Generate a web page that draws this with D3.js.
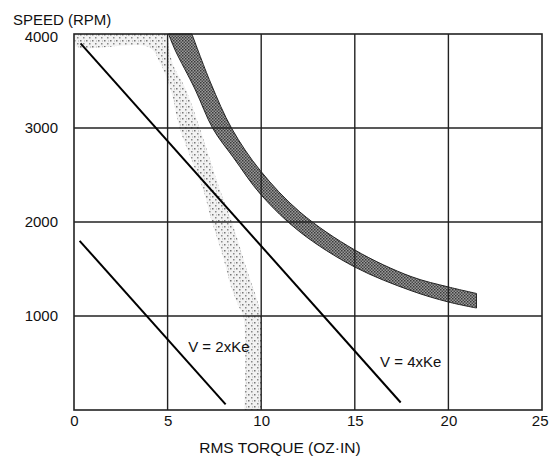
<!DOCTYPE html>
<html>
<head>
    <title>Speed vs RMS Torque</title>
    <script src="https://d3js.org/d3.v7.min.js"></script>
    <style>
        body { margin: 0; background: #fff; }
        text { font-family: "Liberation Sans", Arial, sans-serif; fill: #111; }
    </style>
</head>
<body>
    <script>
        // Data (torque oz-in, speed rpm)
        const xTicks = [0, 5, 10, 15, 20, 25];
        const yTicks = [1000, 2000, 3000, 4000];

        // voltage lines
        const line2Ke = [[0.3, 1800], [8.1, 60]];
        const line4Ke = [[0.35, 3900], [17.45, 80]];

        // dark band: upper edge, then lower edge
        const darkUpper = [[6.3, 4000], [7.3, 3480], [8.44, 2990], [9.94, 2550], [12.07, 2106], [15, 1702], [18, 1420], [20, 1309], [21.5, 1240]];
        const darkLower = [[5.05, 4000], [5.4, 3830], [6.46, 3415], [7.43, 2990], [8.5, 2690], [10, 2287], [12.07, 1894], [15, 1521], [18, 1270], [20, 1149], [21.5, 1085]];

        // light stippled band: right edge, then left edge
        const lightRight = [[5.0, 4000], [5.25, 3700], [5.99, 3404], [6.73, 2990], [7.8, 2340], [8.44, 2000], [9.24, 1489], [9.83, 1138], [10, 990], [10, 0]];
        const lightLeft = [[9.1, 0], [9.05, 990], [8.8, 1100], [8.4, 1300], [8.0, 1600], [7.37, 2000], [6.9, 2340], [5.66, 2990], [5.17, 3404], [4.6, 3690], [4.0, 3860], [0.1, 3870], [0.1, 4000]];

        const W = 549, H = 457;
        const margin = {top: 34, right: 7, bottom: 47, left: 74};
        const width = W - margin.left - margin.right,
              height = H - margin.top - margin.bottom;

        const svg = d3.select("body")
          .append("svg")
            .attr("width", W)
            .attr("height", H);

        const defs = svg.append("defs");

        // stipple pattern for the light band
        const stip = defs.append("pattern")
            .attr("id", "stipple")
            .attr("width", 6).attr("height", 6)
            .attr("patternUnits", "userSpaceOnUse");
        stip.append("rect").attr("width", 6).attr("height", 6).attr("fill", "#f2f2f2");
        stip.append("rect").attr("x", 0).attr("y", 0).attr("width", 1.5).attr("height", 1.5).attr("fill", "#777");
        stip.append("rect").attr("x", 3).attr("y", 3).attr("width", 1.5).attr("height", 1.5).attr("fill", "#888");
        stip.append("rect").attr("x", 4).attr("y", 0.5).attr("width", 1).attr("height", 1).attr("fill", "#aaa");

        // hatch pattern for the dark band
        const hatch = defs.append("pattern")
            .attr("id", "hatch")
            .attr("width", 3).attr("height", 3)
            .attr("patternUnits", "userSpaceOnUse");
        hatch.append("rect").attr("width", 3).attr("height", 3).attr("fill", "#9a9a9a");
        hatch.append("rect").attr("width", 1.5).attr("height", 1.5).attr("fill", "#3a3a3a");
        hatch.append("rect").attr("x", 1.5).attr("y", 1.5).attr("width", 1.5).attr("height", 1.5).attr("fill", "#4a4a4a");

        const g = svg.append("g")
            .attr("transform", `translate(${margin.left},${margin.top})`);

        const x = d3.scaleLinear().domain([0, 25]).range([0, width]);
        const y = d3.scaleLinear().domain([0, 4000]).range([height, 0]);

        const curve = d3.line()
            .x(d => x(d[0]))
            .y(d => y(d[1]))
            .curve(d3.curveCatmullRom);

        // light band (right edge down, left edge back up)
        const lightPath = curve(lightRight) + "L" + curve(lightLeft).slice(1) + "Z";
        g.append("path")
            .attr("d", lightPath)
            .attr("fill", "url(#stipple)")
            .attr("stroke", "none");

        // dark band (upper edge out, lower edge back)
        const darkPath = curve(darkUpper) + "L" + curve(darkLower.slice().reverse()).slice(1) + "Z";
        g.append("path")
            .attr("d", darkPath)
            .attr("fill", "url(#hatch)")
            .attr("stroke", "#222")
            .attr("stroke-width", 1);

        // grid
        g.selectAll(".vgrid")
          .data(xTicks.slice(1, -1))
          .enter()
          .append("line")
            .attr("x1", d => x(d)).attr("x2", d => x(d))
            .attr("y1", 0).attr("y2", height)
            .attr("stroke", "#222").attr("stroke-width", 1.4);

        g.selectAll(".hgrid")
          .data(yTicks.slice(0, -1))
          .enter()
          .append("line")
            .attr("x1", 0).attr("x2", width)
            .attr("y1", d => y(d)).attr("y2", d => y(d))
            .attr("stroke", "#222").attr("stroke-width", 1.4);

        g.append("rect")
            .attr("width", width).attr("height", height)
            .attr("fill", "none")
            .attr("stroke", "#222").attr("stroke-width", 1.6);

        // voltage lines
        [line2Ke, line4Ke].forEach(function(pts) {
            g.append("path")
              .datum(pts)
              .attr("fill", "none")
              .attr("stroke", "#000")
              .attr("stroke-width", 2)
              .attr("d", d3.line().x(d => x(d[0])).y(d => y(d[1])));
        });

        // axes (labels only)
        const xAxis = g.append("g")
            .attr("transform", `translate(0,${height})`)
            .call(d3.axisBottom(x).tickValues(xTicks).tickFormat(d3.format("d")).tickSize(0).tickPadding(5));
        xAxis.select(".domain").remove();
        xAxis.selectAll("text")
            .style("font-size", "15px")
            .style("font-family", "Liberation Sans, Arial, sans-serif")
            .attr("fill", "#111");
        // last label hugs the page edge
        xAxis.selectAll(".tick")
            .filter(d => d === 25)
            .select("text")
            .attr("text-anchor", "end")
            .attr("x", 6);

        const yAxis = g.append("g")
            .call(d3.axisLeft(y).tickValues(yTicks).tickFormat(d3.format("d")).tickSize(0).tickPadding(16));
        yAxis.select(".domain").remove();
        yAxis.selectAll("text")
            .style("font-size", "15px")
            .style("font-family", "Liberation Sans, Arial, sans-serif")
            .attr("fill", "#111");
        // top label sits a bit lower in the reference
        yAxis.selectAll(".tick")
            .filter(d => d === 4000)
            .select("text")
            .attr("dy", "0.5em");

        // titles
        svg.append("text")
            .attr("x", 13).attr("y", 25)
            .style("font-size", "15px")
            .text("SPEED (RPM)");

        svg.append("text")
            .attr("x", margin.left + x(11)).attr("y", 453)
            .style("text-anchor", "middle")
            .style("font-size", "15.5px")
            .text("RMS TORQUE (OZ·IN)");

        // line labels
        g.append("text")
            .attr("x", x(6.1)).attr("y", y(620))
            .style("font-size", "15px")
            .text("V = 2xKe");

        g.append("text")
            .attr("x", x(16.35)).attr("y", y(460))
            .style("font-size", "15px")
            .text("V = 4xKe");
    </script>
</body>
</html>
